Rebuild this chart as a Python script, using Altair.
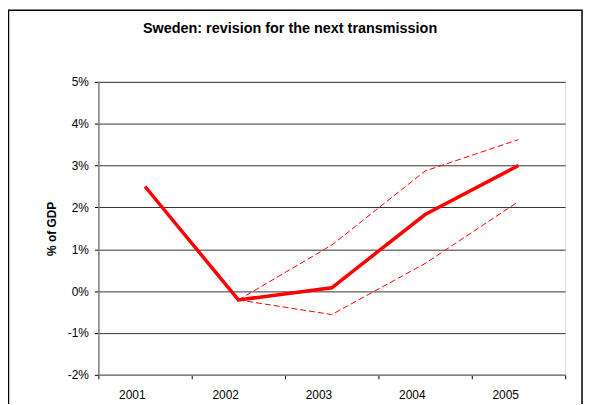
import altair as alt
import pandas as pd

years = ["2001", "2002", "2003", "2004", "2005"]
central = [2.5, -0.21, 0.08, 1.83, 3.0]
upper_years = ["2002", "2003", "2004", "2005"]
upper = [-0.21, 1.1, 2.87, 3.62]
lower_years = ["2002", "2003", "2004", "2005"]
lower = [-0.21, -0.56, 0.66, 2.14]
y_ticks = [-2, -1, 0, 1, 2, 3, 4, 5]

FONT = "Liberation Sans"

df_c = pd.DataFrame({"year": years, "v": central})
df_u = pd.DataFrame({"year": upper_years, "v": upper})
df_l = pd.DataFrame({"year": lower_years, "v": lower})

xenc = alt.X(
    "year:N",
    sort=years,
    scale=alt.Scale(domain=years, paddingInner=0, paddingOuter=0),
    axis=alt.Axis(
        title=None, labelAngle=0, tickBand="extent", grid=False,
        domainColor="#808080", domainWidth=1.5, tickColor="#000000",
        tickSize=4, labelPadding=16, labelFont=FONT, labelFontSize=12,
        labelColor="#000000",
    ),
)
yenc = alt.Y(
    "v:Q",
    scale=alt.Scale(domain=[-2, 5], nice=False, zero=False),
    axis=alt.Axis(
        title="% of GDP", values=y_ticks, labelExpr="datum.value + '%'",
        grid=True, gridColor="#333333", gridWidth=1,
        domainColor="#808080", domainWidth=1.5, tickColor="#000000",
        tickSize=4, labelPadding=6, labelFont=FONT, labelFontSize=12,
        labelColor="#000000", titleFont=FONT, titleFontSize=12,
        titleFontWeight="bold", titleColor="#000000", titlePadding=9,
    ),
)

base_c = alt.Chart(df_c).mark_line(color="#FF0000", strokeWidth=3.5).encode(x=xenc, y=yenc)
base_u = alt.Chart(df_u).mark_line(color="#FF0000", strokeWidth=1, strokeDash=[6, 3]).encode(
    x=alt.X("year:N", sort=years), y="v:Q")
base_l = alt.Chart(df_l).mark_line(color="#FF0000", strokeWidth=1, strokeDash=[6, 3]).encode(
    x=alt.X("year:N", sort=years), y="v:Q")

frame = alt.Chart(pd.DataFrame({"a": [0]})).mark_rect(
    fill=None, stroke="#000000", strokeWidth=1.5
).encode(
    x=alt.value(-90.5), x2=alt.value(487), y=alt.value(-72), y2=alt.value(340)
)

chart = alt.layer(frame, base_u, base_l, base_c).properties(
    width=470,
    height=295,
    title=alt.TitleParams(
        "Sweden: revision for the next transmission",
        font=FONT, fontSize=14.5, fontWeight="bold", color="#000000",
        anchor="middle", frame="group", dx=-42, offset=-27,
    ),
    autosize=alt.AutoSizeParams(type="none"),
    padding={"left": 91, "top": 73, "right": 20, "bottom": 28},
).configure_view(stroke=None).configure(background="white")

chart.save("out.html", embed_options={"renderer": "svg", "actions": False})
